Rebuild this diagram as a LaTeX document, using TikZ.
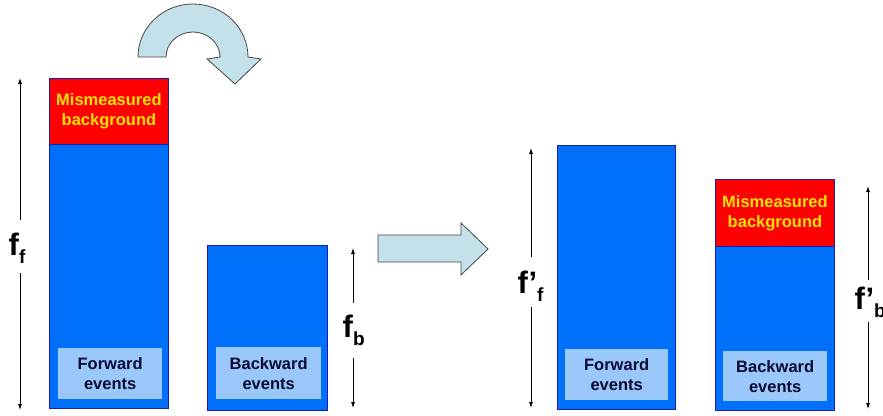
\documentclass[tikz,border=0pt]{standalone}
\usepackage{fontspec}
\setmainfont{Liberation Sans}
\usetikzlibrary{arrows.meta}
\definecolor{barblue}{RGB}{0,112,250}
\definecolor{barborder}{RGB}{30,30,170}
\definecolor{lightbox}{RGB}{155,200,250}
\definecolor{mred}{RGB}{255,0,0}
\definecolor{myellow}{RGB}{255,228,0}
\definecolor{navytext}{RGB}{10,10,50}
\definecolor{arrowfill}{RGB}{196,224,232}
\definecolor{arrowline}{RGB}{70,70,70}
\tikzset{
  barbox/.style={draw=barborder, line width=0.9pt, fill=barblue, anchor=north west, inner sep=0pt},
  redbox/.style={draw=barborder, line width=0.9pt, fill=mred, anchor=north west, inner sep=0pt,
    text=myellow, font=\fontsize{16.5}{20}\selectfont\bfseries, align=center},
  evbox/.style={fill=lightbox, anchor=north west, inner sep=0pt,
    text=navytext, font=\fontsize{16.5}{20}\selectfont\bfseries, align=center},
  dimarrow/.style={line width=0.8pt, -{Latex[length=6pt,width=4pt]}},
  dimlabel/.style={anchor=base west, inner sep=0pt, font=\bfseries},
  bigarrow/.style={draw=arrowline, line width=0.8pt, fill=arrowfill, line join=miter}
}
\newcommand{\mainf}[1]{{\fontsize{31}{31}\selectfont f#1}}
\newcommand{\subl}[1]{\raisebox{-8.5pt}{\fontsize{19}{19}\selectfont #1}}
\begin{document}
\begin{tikzpicture}[x=1pt,y=-1pt]
\useasboundingbox (0,0) rectangle (883,415);

% ---- bar 1: forward (left) ----
\node[barbox, minimum width=119pt, minimum height=330pt] (bar1) at (49,78) {};
\node[redbox, minimum width=119pt, minimum height=66pt] (red1) at (49,78) {Mismeasured\\background};
\node[evbox, minimum width=104pt, minimum height=51pt] (ev1) at (58,348) {Forward\\events};

% ---- bar 2: backward (left) ----
\node[barbox, minimum width=120pt, minimum height=165pt] (bar2) at (207,245) {};
\node[evbox, minimum width=105pt, minimum height=52pt] (ev2) at (216,347) {Backward\\events};

% ---- bar 3: forward (right) ----
\node[barbox, minimum width=118pt, minimum height=264pt] (bar3) at (557,145) {};
\node[evbox, minimum width=103pt, minimum height=51pt] (ev3) at (565,349) {Forward\\events};

% ---- bar 4: backward (right) ----
\node[barbox, minimum width=119pt, minimum height=231pt] (bar4) at (715,179) {};
\node[redbox, minimum width=119pt, minimum height=67pt] (red4) at (715,179) {Mismeasured\\background};
\node[evbox, minimum width=104pt, minimum height=50pt] (ev4) at (723,351) {Backward\\events};

% ---- dimension labels ----
\node[dimlabel] (lff) at (8.5,255) {\mainf{}\subl{f}};
\node[dimlabel] (lfb) at (342.5,337) {\mainf{}\subl{b}};
\node[dimlabel] (lpff) at (517.5,293) {\mainf{’}\subl{f}};
\node[dimlabel] (lpfb) at (854.5,309) {\mainf{’}\subl{b}};

% ---- dimension arrows ----
\coordinate (a1t) at (20,78);   \coordinate (a1u) at (20,220);
\coordinate (a1l) at (20,273);  \coordinate (a1b) at (20,410);
\draw[dimarrow] (a1u) -- (a1t);
\draw[dimarrow] (a1l) -- (a1b);

\coordinate (a2t) at (353,248); \coordinate (a2u) at (353,303);
\coordinate (a2l) at (353,358); \coordinate (a2b) at (353,408);
\draw[dimarrow] (a2u) -- (a2t);
\draw[dimarrow] (a2l) -- (a2b);

\coordinate (a3t) at (531,148); \coordinate (a3u) at (531,257);
\coordinate (a3l) at (531,307); \coordinate (a3b) at (531,408);
\draw[dimarrow] (a3u) -- (a3t);
\draw[dimarrow] (a3l) -- (a3b);

\coordinate (a4t) at (868,186); \coordinate (a4u) at (868,280);
\coordinate (a4l) at (868,322); \coordinate (a4b) at (868,409);
\draw[dimarrow] (a4u) -- (a4t);
\draw[dimarrow] (a4l) -- (a4b);

% ---- curved block arrow ----
\path[bigarrow] (138,57)
  .. controls (138,27.7) and (162.6,4) .. (193,4)
  .. controls (223.4,4) and (248,27.7) .. (248,57)
  -- (261,59) -- (235,84) -- (207,59) -- (220,57)
  .. controls (220,43.2) and (207.9,32) .. (193,32)
  .. controls (178.1,32) and (166,43.2) .. (166,57)
  -- cycle;

% ---- straight block arrow ----
\path[bigarrow] (378,235) -- (461,235) -- (461,223) -- (488,249)
  -- (461,275) -- (461,262) -- (378,262) -- cycle;
\end{tikzpicture}
\end{document}
